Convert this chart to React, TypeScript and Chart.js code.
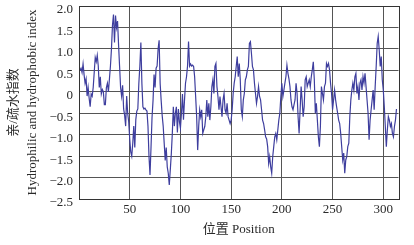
import { useEffect, useRef } from 'react';
import { Chart, registerables } from 'chart.js';

Chart.register(...registerables);

// Hydropathy index per residue (residue 1 .. 313)
const hydropathy = [
  0.5, 0.55, 0.45, 0.65, 0.4, 0.2, 0.3, -0.1, 0.1, -0.15,
  -0.35, -0.05, -0.1, 0.1, 0.45, 0.8, 0.7, 0.85, 0.6, 0.1,
  0.35, -0.05, 0.05, 0.0, -0.3, -0.3, 0.1, 0.2, 0.0, 0.3,
  0.6, 1.0, 1.55, 1.8, 1.15, 1.78, 1.5, 1.65, 1.1, 0.6,
  0.1, -0.1, 0.15, -0.4, -0.55, -0.8, -0.1, -0.5, -0.7, -1.1,
  -1.4, -1.5, -1.2, -0.8, -1.3, -0.65, -0.45, -0.4, 0.2, 0.6,
  1.15, 0.2, -0.35, -0.4, -0.38, -0.42, -0.45, -0.8, -1.5, -1.94,
  -1.3, -0.6, -0.2, 0.4, 0.1, 0.55, 0.6, 1.0, 1.2, 0.2,
  -0.2, -0.55, -0.8, -1.2, -1.6, -1.3, -1.75, -1.9, -2.17, -1.82,
  -1.45, -0.97, -0.35, -0.8, -0.5, -0.35, -0.95, -0.4, -0.7, -0.85,
  -0.5, -0.05, -0.65, -0.2, 0.2, 0.35, 0.6, 1.17, 0.6, 0.65,
  0.6, 0.62, 0.59, 0.35, -0.11, -0.58, -1.36, -0.81, -0.42, -0.58,
  -0.42, -0.97, -0.89, -0.81, -0.58, -0.19, -0.58, -0.27, -0.66, -0.35,
  0.12, 0.28, -0.04, 0.59, 0.66, 0.12, -0.11, -0.42, -0.11, -0.35,
  -0.58, -0.19, -0.04, -0.42, -0.5, -0.27, -0.58, -0.66, -0.74, -0.66,
  -0.42, -0.04, 0.2, 0.35, 0.59, 0.82, 0.35, 0.66, 0.28, -0.42,
  -0.58, -0.19, -0.04, 0.28, 0.35, 0.51, 0.59, 1.13, 1.17, 0.9,
  0.59, 0.51, 0.2, -0.04, -0.27, -0.11, 0.12, -0.11, -0.19, -0.42,
  -0.66, -0.74, -0.89, -1.05, -1.1, -1.28, -1.67, -1.51, -1.75, -1.9,
  -1.51, -1.28, -1.05, -0.97, -1.12, -0.89, -0.66, -0.5, -0.11, 0.2,
  -0.11, 0.04, 0.2, 0.35, 0.62, 0.43, 0.3, 0.12, -0.19, -0.35,
  -0.42, -0.3, -0.19, 0.2, -0.04, -0.58, -0.97, -0.42, 0.12, -0.19,
  -0.58, -0.35, 0.28, 0.35, 0.12, 0.2, 0.28, 0.12, 0.35, 0.51,
  0.7, 0.28, -0.5, -0.27, -0.66, -1.05, -1.28, -0.81, 0.12, -0.04,
  -0.19, 0.12, 0.2, 0.66, 0.59, 0.66, 0.51, 0.2, -0.04, -0.42,
  -0.19, 0.04, -0.19, -0.35, -0.5, -0.66, -0.74, -0.97, -1.28, -1.59,
  -1.43, -1.9, -1.59, -1.51, -1.28, -1.2, -0.58, -0.19, 0.04, 0.2,
  0.04, 0.35, 0.43, -0.04, 0.12, -0.19, 0.2, 0.28, 0.04, 0.35,
  0.2, 0.43, 0.12, -0.19, -0.5, -1.12, -0.66, -0.42, -0.19, 0.04,
  -0.42, 0.12, 0.59, 1.13, 1.29, 0.97, 0.59, 0.82, 0.28, 0.04,
  -0.35, -0.81, -1.28, -0.89, -0.58, -0.66, -0.81, -0.74, -0.97, -1.05,
  -0.81, -0.66, -0.4,
];

const xTicks = [50, 100, 150, 200, 250, 300];
const yTicks = [-2.5, -2, -1.5, -1, -0.5, 0, 0.5, 1, 1.5, 2];
const yTickLabels = ['−2.5', '−2.0', '−1.5', '−1.0', '−0.5', '0', '0.5', '1.0', '1.5', '2.0'];
const xTitle = '位置 Position';
const yTitle = ['亲/疏水指数', 'Hydrophilic and hydrophobic index'];

const FONT = "'Liberation Serif', 'Noto Sans CJK SC', serif";
const TEXT = '#2a2a2a';
const GRID = '#555555';
const LINE = '#3e3e9e';

const framePlugin = {
  id: 'frame',
  afterDatasetsDraw(chart: any) {
    const { ctx, chartArea: a } = chart;
    ctx.save();
    ctx.strokeStyle = '#333333';
    ctx.lineWidth = 1;
    ctx.strokeRect(
      Math.round(a.left) + 0.5,
      Math.round(a.top) + 0.5,
      Math.round(a.right - a.left),
      Math.round(a.bottom - a.top)
    );
    ctx.restore();
  },
};

export default function App() {
  const ref = useRef<HTMLCanvasElement | null>(null);

  useEffect(() => {
    document.body.style.margin = '0';
    const canvas = ref.current;
    if (!canvas) return;
    const points = hydropathy.map((v, i) => ({ x: i + 1, y: v }));
    const chart = new Chart(canvas, {
      type: 'line',
      data: {
        datasets: [
          {
            data: points,
            borderColor: LINE,
            borderWidth: 1.2,
            pointRadius: 0,
            tension: 0,
            fill: false,
          },
        ],
      },
      plugins: [framePlugin],
      options: {
        animation: false,
        responsive: false,
        devicePixelRatio: 1,
        layout: { padding: { left: 0, top: 6, right: 15.5, bottom: 0 } },
        plugins: {
          legend: { display: false },
          tooltip: { enabled: false },
        },
        scales: {
          x: {
            type: 'linear',
            min: 0,
            max: 315,
            afterBuildTicks: (s: any) => {
              s.ticks = xTicks.map((v) => ({ value: v }));
            },
            afterFit: (s: any) => {
              s.height = 46;
              s.paddingLeft = 0;
              s.paddingRight = 0;
            },
            grid: { color: GRID, lineWidth: 1, drawTicks: false },
            border: { display: false },
            ticks: {
              font: { family: FONT, size: 13 },
              color: TEXT,
              padding: 3,
              maxRotation: 0,
              autoSkip: false,
            },
            title: {
              display: true,
              text: xTitle,
              font: { family: FONT, size: 13, lineHeight: 1.4 },
              color: TEXT,
              padding: { top: 0, bottom: 5.9 },
            },
          },
          y: {
            type: 'linear',
            min: -2.5,
            max: 2,
            afterBuildTicks: (s: any) => {
              s.ticks = yTicks.map((v) => ({ value: v }));
            },
            afterFit: (s: any) => {
              s.width = 79;
              s.paddingTop = 0;
              s.paddingBottom = 0;
            },
            grid: { color: GRID, lineWidth: 1, drawTicks: false },
            border: { display: false },
            ticks: {
              font: { family: FONT, size: 13 },
              color: TEXT,
              padding: 6,
              labelOffset: 4,
              autoSkip: false,
              callback: (v: any) => {
                const i = yTicks.indexOf(Number(v));
                return i >= 0 ? yTickLabels[i] : '';
              },
            },
            title: {
              display: true,
              text: yTitle,
              font: { family: FONT, size: 13, lineHeight: 1.4 },
              color: TEXT,
              padding: { top: 4.9, bottom: 0 },
            },
          },
        },
      },
    });
    return () => chart.destroy();
  }, []);

  return (
    <div style={{ width: 414, height: 245, background: '#fff' }}>
      <canvas ref={ref} width={414} height={245} style={{ display: 'block' }} />
    </div>
  );
}
